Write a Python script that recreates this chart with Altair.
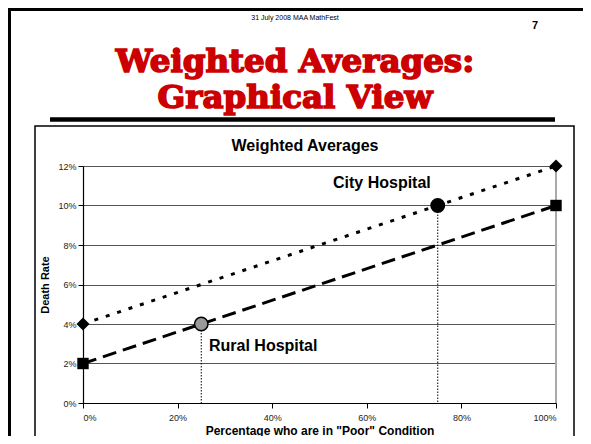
import altair as alt
import pandas as pd

# ---- data ----
pct = [0.0, 1.0]
city_rate = [0.04, 0.12]
rural_rate = [0.02, 0.10]
mix_pct = [0.25, 0.75]
mix_rate = [0.04, 0.10]
hospitals = ["Rural Hospital", "City Hospital"]
y_ticks = [0.0, 0.02, 0.04, 0.06, 0.08, 0.10, 0.12]
x_ticks = [0.0, 0.2, 0.4, 0.6, 0.8, 1.0]

city = pd.DataFrame({"pct": pct, "rate": city_rate})
rural = pd.DataFrame({"pct": pct, "rate": rural_rate})
mix = pd.DataFrame({"pct": mix_pct, "rate": mix_rate, "name": hospitals})
edge = pd.DataFrame({"pct": [1.0], "rate": [0.0], "rate2": [0.12]})

FONT = "Liberation Sans"
W, H = 473, 237

x_enc = alt.X(
    "pct:Q",
    scale=alt.Scale(domain=[0, 1], nice=False),
    axis=alt.Axis(
        values=x_ticks, format=".0%", grid=False, domainColor="black",
        domainWidth=1.2, tickColor="black", tickSize=5, labelFont=FONT,
        labelFontSize=9, labelColor="#222", labelPadding=5,
        title='Percentage who are in "Poor" Condition', titleFont=FONT,
        titleFontSize=12, titleFontWeight="bold", titleColor="black",
        titleY=27, titleBaseline="middle",
    ),
)
y_enc = alt.Y(
    "rate:Q",
    scale=alt.Scale(domain=[0, 0.12], nice=False),
    axis=alt.Axis(
        values=y_ticks, format=".0%", grid=True, gridColor="#555",
        gridWidth=1.2, domainColor="black", domainWidth=1.2, tickColor="black",
        tickSize=5, labelFont=FONT, labelFontSize=9, labelColor="#222",
        labelPadding=2, title="Death Rate", titleFont=FONT, titleFontSize=11,
        titleFontWeight="bold", titleColor="black", titleX=-38, titleY=118.5,
        titleAngle=-90, titleAlign="center", titleBaseline="middle",
    ),
)

right_edge = alt.Chart(edge).mark_rule(color="#aaa", strokeWidth=2).encode(
    x=x_enc, y=y_enc, y2="rate2:Q"
)

drops = alt.Chart(mix).transform_calculate(zero="0").mark_rule(
    color="black", strokeWidth=1, strokeDash=[1.5, 1.5]
).encode(x=x_enc, y=y_enc, y2="zero:Q")

city_line = alt.Chart(city).mark_line(
    color="black", strokeWidth=3, strokeDash=[4, 8]
).encode(x=x_enc, y=y_enc)
rural_line = alt.Chart(rural).mark_line(
    color="black", strokeWidth=3, strokeDash=[14, 7]
).encode(x=x_enc, y=y_enc)

city_pts = alt.Chart(city).mark_point(
    shape="diamond", size=170, filled=True, color="black", opacity=1
).encode(x=x_enc, y=y_enc)
rural_pts = alt.Chart(rural).mark_point(
    shape="square", size=130, filled=True, color="black", opacity=1
).encode(x=x_enc, y=y_enc)

mix_pts = alt.Chart(mix).mark_point(
    shape="circle", size=180, filled=True, opacity=1, stroke="black",
    strokeWidth=1.5
).encode(
    x=x_enc, y=y_enc,
    fill=alt.Fill("name:N", scale=alt.Scale(domain=hospitals, range=["#999999", "black"]), legend=None),
)


def label(txt, x, y, size, weight="bold", color="black", font=FONT, align="center", stroke=0):
    props = dict(font=font, fontSize=size, fontWeight=weight, color=color,
                 align=align, baseline="middle")
    if stroke:
        props.update(stroke=color, strokeWidth=stroke)
    return alt.Chart(pd.DataFrame({"t": [txt]})).mark_text(**props).encode(
        text="t:N", x=alt.value(x), y=alt.value(y))


def frame(x, y, x2, y2, width):
    return alt.Chart(pd.DataFrame({"t": [0]})).mark_rect(
        fillOpacity=0, stroke="black", strokeWidth=width
    ).encode(x=alt.value(x), x2=alt.value(x2), y=alt.value(y), y2=alt.value(y2))


outer = frame(-73.5, -156.5, 512, 290, 3)
box = frame(-48, -40, 491, 290, 1.5)
bar = alt.Chart(pd.DataFrame({"t": [0]})).mark_rule(color="black", strokeWidth=4.5).encode(
    x=alt.value(-33), x2=alt.value(472), y=alt.value(-46.5)
)

header = label("31 July 2008 MAA MathFest", 212, -148, 7, weight="normal")
page_no = label("7", 452, -140, 11)
title1 = label("Weighted Averages:", 212, -104, 32.5, color="#CC0000", font="DejaVu Serif", stroke=1.6)
title2 = label("Graphical View", 212, -68, 32.5, color="#CC0000", font="DejaVu Serif", stroke=1.6)
chart_title = label("Weighted Averages", 222, -20, 16)
city_lab = label("City Hospital", 250, 17, 16, align="left")
rural_lab = label("Rural Hospital", 126, 180, 16, align="left")

chart = alt.layer(
    outer, box, bar, header, page_no, title1, title2, chart_title,
    right_edge, drops, city_line, rural_line, city_pts, rural_pts, mix_pts,
    city_lab, rural_lab,
).properties(
    width=W, height=H,
    autosize=alt.AutoSizeParams(type="none"),
    padding={"left": 75, "top": 158, "right": 27, "bottom": 33},
    background="white",
).configure_view(strokeWidth=0)

chart.save("out.html", embed_options={"renderer": "svg", "actions": False})
